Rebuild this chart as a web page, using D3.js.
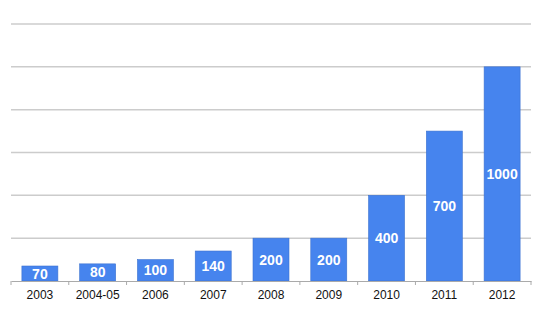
<!DOCTYPE html>
<html><head><meta charset="utf-8">
<script src="https://cdn.jsdelivr.net/npm/d3@7"></script>
<style>body{margin:0;background:#fff}svg{display:block}</style>
</head><body><svg id="c" width="548" height="314"></svg>
<script>
const categories = ["2003","2004-05","2006","2007","2008","2009","2010","2011","2012"];
const values = [70,80,100,140,200,200,400,700,1000];
const gridTicks = [0,200,400,600,800,1000,1200];

const svg = d3.select("#c");
const x = d3.scaleBand().domain(categories).range([11,531]).paddingInner(0.377).paddingOuter(0.1885);
const y = d3.scaleLinear().domain([0,1200]).range([281,24]);

svg.append("g").selectAll("line").data(gridTicks.filter(d=>d>0)).join("line")
  .attr("x1",11).attr("x2",531).attr("y1",d=>y(d)).attr("y2",d=>y(d))
  .attr("stroke","#cccccc").attr("stroke-width",1.5);

svg.append("g").selectAll("rect").data(values).join("rect")
  .attr("x",(d,i)=>x(categories[i])).attr("width",x.bandwidth())
  .attr("y",d=>y(d)).attr("height",d=>y(0)-y(d))
  .attr("fill","#4684ee").attr("stroke","#3d72d0").attr("stroke-width",0.6);

svg.append("g").selectAll("text").data(values).join("text")
  .attr("x",(d,i)=>x(categories[i])+x.bandwidth()/2)
  .attr("y",d=>(y(d)+y(0))/2)
  .attr("dy","0.36em").attr("text-anchor","middle")
  .attr("fill","#fff").attr("font-family","Liberation Sans, Arial, sans-serif")
  .attr("font-weight","bold").attr("font-size","14px")
  .text(d=>d);

const axis = d3.axisBottom(x).tickSize(0).tickPadding(9);
const ag = svg.append("g").attr("transform",`translate(0,${y(0)})`).call(axis);
ag.select(".domain").attr("stroke","#aaaaaa").attr("stroke-width",1.2);
ag.selectAll("text").attr("font-family","Liberation Sans, Arial, sans-serif").attr("font-size","12px").attr("fill","#111");
// band boundary ticks
const bounds = categories.map(c=>x(c)-x.step()*x.paddingInner()/2).concat([531]);
ag.append("g").selectAll("line").data(bounds).join("line")
  .attr("x1",d=>d).attr("x2",d=>d).attr("y1",0).attr("y2",4)
  .attr("stroke","#aaaaaa").attr("stroke-width",1);
</script></body></html>
